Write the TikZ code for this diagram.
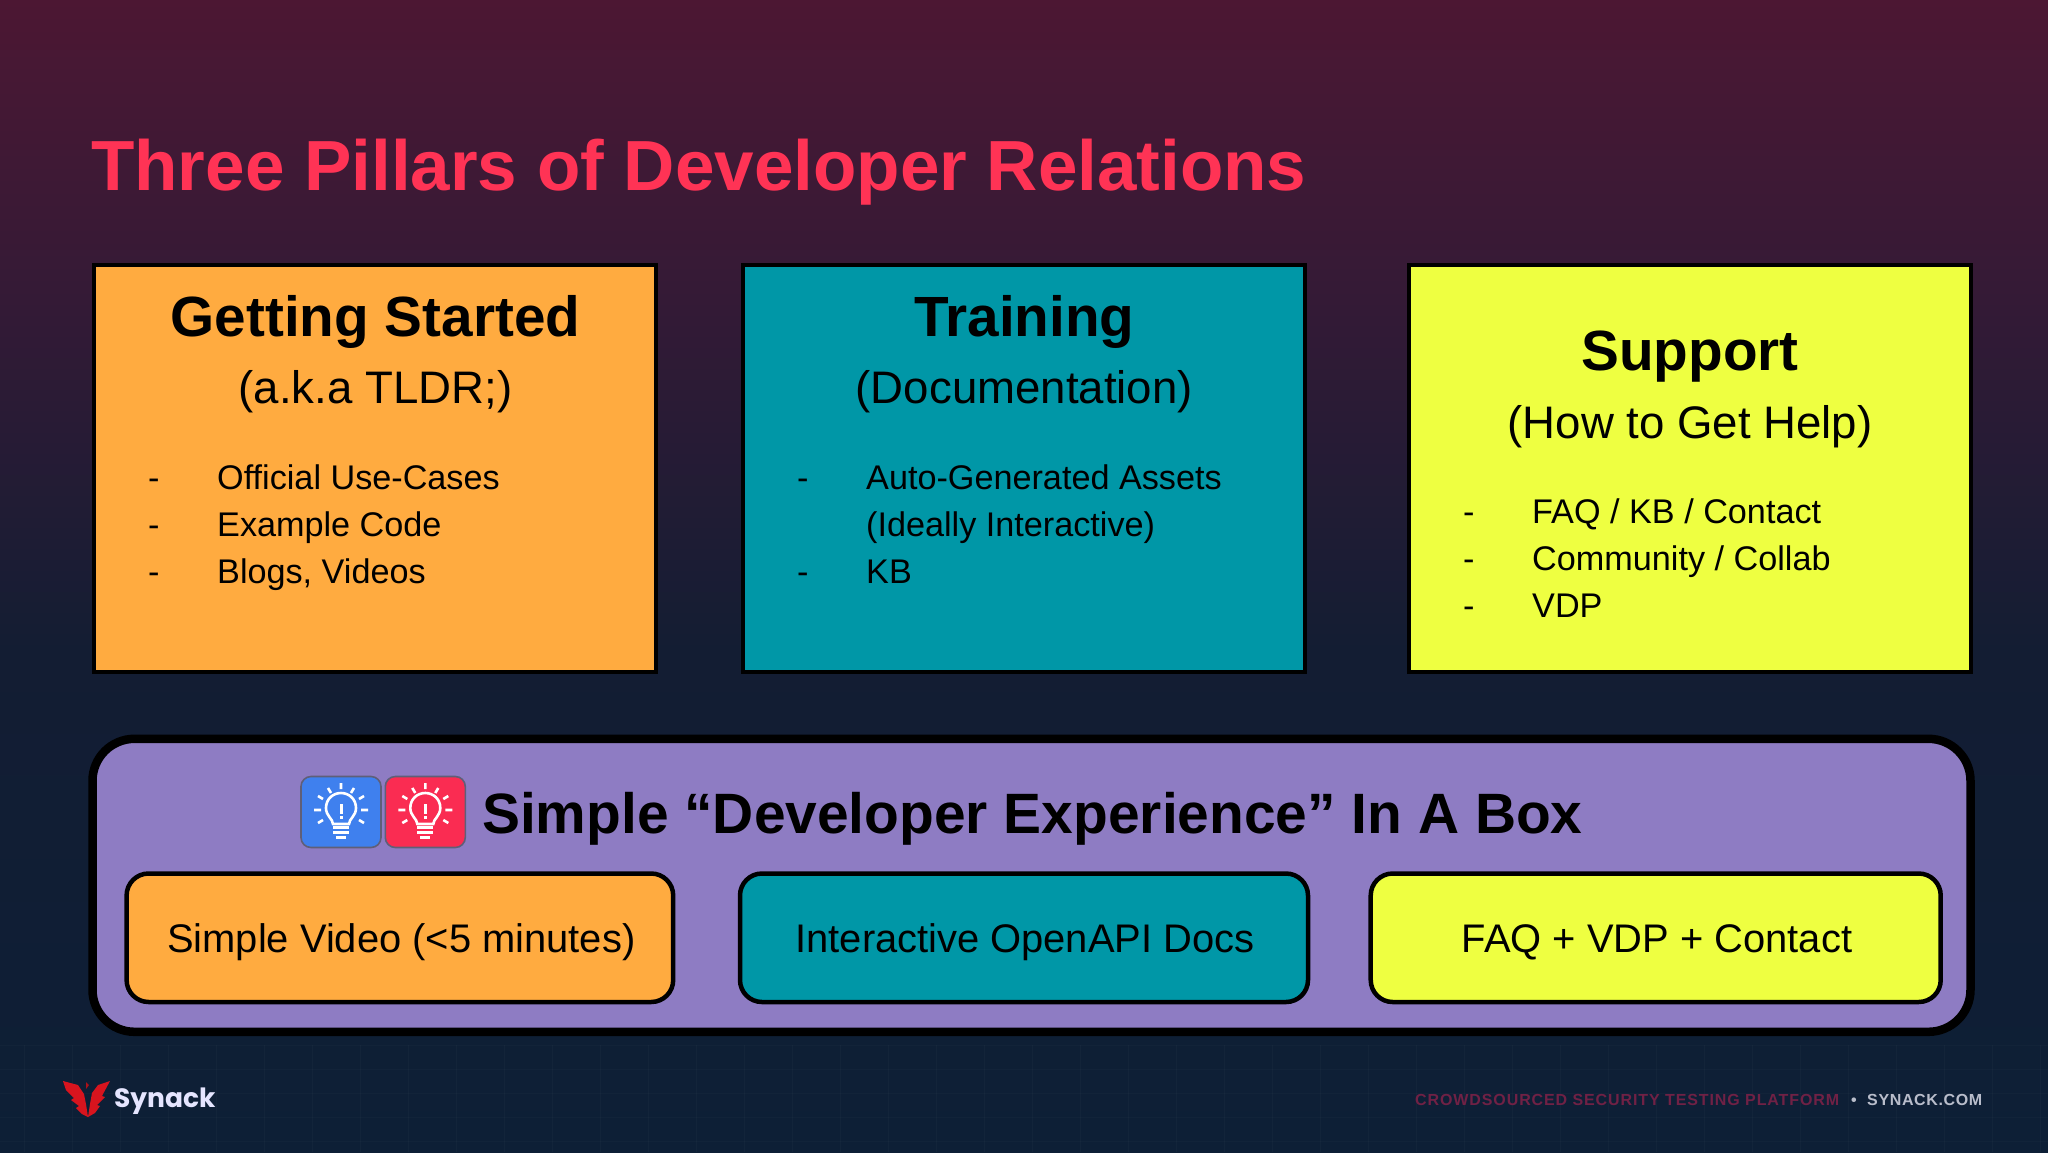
\documentclass[tikz,border=0pt]{standalone}
\usepackage{fontspec}
\setmainfont{Liberation Sans}
\newfontfamily\logofont{Poppins}
\definecolor{orangebox}{HTML}{FFAB40}
\definecolor{tealbox}{HTML}{0097A7}
\definecolor{limebox}{HTML}{EEFF41}
\definecolor{purplebox}{HTML}{8E7CC3}
\definecolor{titlered}{HTML}{FF3355}
\definecolor{bgA}{HTML}{4C1733}
\definecolor{bgB}{HTML}{341A36}
\definecolor{bgC}{HTML}{131D33}
\definecolor{bgD}{HTML}{0D1F36}
\definecolor{iconblue}{HTML}{3F80EE}
\definecolor{iconred}{HTML}{FA2C52}
\definecolor{iconedge}{HTML}{5F5F78}
\definecolor{footred}{HTML}{702145}
\definecolor{footgrey}{HTML}{B9BDCB}
\definecolor{logored}{HTML}{D8141E}
\pgfdeclareverticalshading{slidebg}{100bp}{
 color(0bp)=(bgD); color(25bp)=(bgD); color(46.8bp)=(bgC); color(62bp)=(bgB); color(75bp)=(bgA); color(100bp)=(bgA)}
\tikzset{
 x=1pt,y=-1pt,
 pillar/.style={draw=black,line width=4pt,inner sep=0pt,outer sep=0pt,anchor=north west,minimum width=562pt,minimum height=407pt},
 inbox/.style={draw=black,line width=4.5pt,rounded corners=22pt,inner sep=0pt,outer sep=0pt,anchor=north west,minimum height=128.5pt},
 intext/.style={anchor=base,inner sep=0pt,font=\fontsize{39.9}{48}\selectfont},
 headtext/.style={anchor=base,font=\fontsize{56.7}{60}\bfseries\selectfont},
 subtext/.style={anchor=base,font=\fontsize{45.6}{50}\selectfont},
 itemtext/.style={anchor=base west,font=\fontsize{34.2}{40}\selectfont,inner sep=0pt},
 bulbline/.style={white,line width=2.6pt,line cap=butt},
 footer/.style={anchor=base west,inner sep=0pt},
}
\newcommand{\bulbicon}[3]{%
 \begin{scope}[shift={(#1,#2)}]
  \filldraw[fill=#3,draw=iconedge,line width=1.6pt,rounded corners=10pt] (-40,-35.5) rectangle (40,35.5);
  \draw[bulbline] (-8,12) .. controls (-8,7) and (-15,4) .. (-15,-4) .. controls (-15,-13) and (-8,-19) .. (0,-19) .. controls (8,-19) and (15,-13) .. (15,-4) .. controls (15,4) and (8,7) .. (8,12) -- cycle;
  \draw[bulbline,line width=3pt] (0,-8) -- (0,2) (0,4) -- (0,7);
  \draw[bulbline,line width=3pt] (-8,15.5) -- (8,15.5) (-8,20.5) -- (8,20.5);
  \draw[bulbline,line width=3pt] (-5,25) -- (5,25);
  \draw[bulbline] (0,-29) -- (0,-23) (-13,-24) -- (-10,-19) (13,-24) -- (10,-19) (-23,-16) -- (-18,-13) (23,-16) -- (18,-13) (-27,-2) -- (-20,-2) (27,-2) -- (20,-2) (-23,11) -- (-18,8) (23,11) -- (18,8);
 \end{scope}}
\begin{document}
\begin{tikzpicture}
\useasboundingbox (0,0) rectangle (2048,1152);
\shade[shading=slidebg] (0,0) rectangle (2048,1152);
% faint footer grid
\foreach \gx in {24,72,...,2040} \draw[white,opacity=.025,line width=1pt] (\gx,1045) -- (\gx,1152);
\foreach \gy in {1045,1069,...,1152} \draw[white,opacity=.02,line width=1pt] (0,\gy) -- (2048,\gy);

\node[anchor=base west,inner sep=0pt,text=titlered,font=\fontsize{71}{80}\bfseries\selectfont] (title) at (91,190) {Three Pillars of Developer Relations};

% pillars
\node[pillar,fill=orangebox] (p1) at (94.3,264.5) {};
\node[pillar,fill=tealbox] (p2) at (743.3,264.5) {};
\node[pillar,fill=limebox] (p3) at (1408.7,264.5) {};

\node[headtext] (h1) at (375.5,336) {Getting Started};
\node[subtext] (s1) at (375.5,403) {(a.k.a TLDR;)};
\node[itemtext] (d1a) at (148,489) {-};
\node[itemtext] (i1a) at (217,489) {Official Use-Cases};
\node[itemtext] (d1b) at (148,536) {-};
\node[itemtext] (i1b) at (217,536) {Example Code};
\node[itemtext] (d1c) at (148,583) {-};
\node[itemtext] (i1c) at (217,583) {Blogs, Videos};

\node[headtext] (h2) at (1024.3,336) {Training};
\node[subtext] (s2) at (1024.3,403) {(Documentation)};
\node[itemtext] (d2a) at (797,489) {-};
\node[itemtext] (i2a) at (866,489) {Auto-Generated Assets};
\node[itemtext] (i2b) at (866,536) {(Ideally Interactive)};
\node[itemtext] (d2c) at (797,583) {-};
\node[itemtext] (i2c) at (866,583) {KB};

\node[headtext] (h3) at (1690,370) {Support};
\node[subtext] (s3) at (1690,438) {(How to Get Help)};
\node[itemtext] (d3a) at (1463,523) {-};
\node[itemtext] (i3a) at (1532,523) {FAQ / KB / Contact};
\node[itemtext] (d3b) at (1463,570) {-};
\node[itemtext] (i3b) at (1532,570) {Community / Collab};
\node[itemtext] (d3c) at (1463,617) {-};
\node[itemtext] (i3c) at (1532,617) {VDP};

% big box
\node[draw=black,line width=8.5pt,rounded corners=42pt,fill=purplebox,inner sep=0pt,outer sep=0pt,anchor=north west,minimum width=1878pt,minimum height=293pt] (big) at (92.5,738.8) {};
\bulbicon{341}{812}{iconblue}
\bulbicon{425.3}{812}{iconred}
\node[anchor=base west,inner sep=0pt,font=\fontsize{56.9}{60}\bfseries\selectfont] (bigt) at (482,833) {Simple “Developer Experience” In A Box};

\node[inbox,fill=orangebox,minimum width=546.6pt] (b1) at (126.6,873.5) {};
\node[inbox,fill=tealbox,minimum width=568pt] (b2) at (740,873.5) {};
\node[inbox,fill=limebox,minimum width=570pt] (b3) at (1370.7,873.5) {};
\node[intext] (t1) at (401.3,952.6) {Simple Video (<5 minutes)};
\node[intext] (t2) at (1025,952.6) {Interactive OpenAPI Docs};
\node[intext] (t3) at (1657,952.6) {FAQ + VDP + Contact};

% footer
\fill[logored] (63,1081) -- (78,1085) -- (84,1094) -- (86,1104) -- (88,1117) -- (82,1114) -- (76,1108) -- (79,1106) -- (71,1100) -- (74,1098) -- (66,1090) -- cycle;
\fill[logored] (110,1081) -- (98,1085) -- (92,1093) -- (90,1104) -- (88,1117) -- (95,1113) -- (100,1106) -- (97,1105) -- (105,1097) -- (102,1096) -- cycle;
\fill[logored!80!black] (86,1082) -- (89,1085) -- (86,1089) -- cycle;
\node[anchor=base west,inner sep=0pt,text=white!90!blue,font=\logofont\fontsize{26.5}{30}\bfseries\selectfont] (logo) at (114,1107) {Synack};
\node[footer,text=footred,font=\fontsize{16}{18}\bfseries\selectfont\addfontfeatures{LetterSpace=5.6}] (foot) at (1415,1105) {CROWDSOURCED SECURITY TESTING PLATFORM};
\node[footer,text=footgrey,font=\fontsize{16}{18}\bfseries\selectfont] (dot) at (1851,1105) {•};
\node[footer,text=footgrey,font=\fontsize{16}{18}\bfseries\selectfont\addfontfeatures{LetterSpace=4}] (foot2) at (1867,1105) {SYNACK.COM};
\end{tikzpicture}
\end{document}
